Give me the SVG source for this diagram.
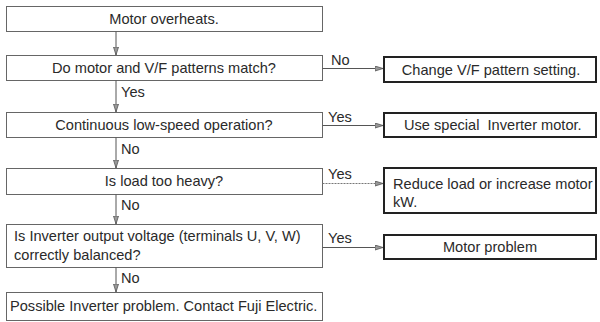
<svg xmlns="http://www.w3.org/2000/svg" width="600" height="322" viewBox="0 0 600 322">
<style>
text{font-family:"Liberation Sans",Arial,sans-serif;font-size:14.6px;fill:#2a2a2a}
.c{text-anchor:middle}
.lb{fill:none;stroke:#666;stroke-width:1}
.rb{fill:none;stroke:#222;stroke-width:2}
.ln{stroke:#555;stroke-width:1;fill:none}
.dt{stroke:#777;stroke-width:1;stroke-dasharray:2 1;fill:none}
</style>
<defs>
<marker id="ah" markerWidth="8" markerHeight="6" refX="8" refY="3" orient="auto" markerUnits="userSpaceOnUse">
<path d="M0,0.5 L8,3 L0,5.5 Z" fill="#999" stroke="#555" stroke-width="0.8"/>
</marker>
</defs>
<rect width="600" height="322" fill="#fff"/>
<g id="n1"><rect class="lb" x="6.5" y="6.5" width="316" height="25"/><text class="c" x="164" y="24">Motor overheats.</text></g>
<g id="n2"><rect class="lb" x="6.5" y="55.5" width="316" height="25"/><text class="c" x="164" y="73">Do motor and V/F patterns match?</text></g>
<g id="n3"><rect class="lb" x="6.5" y="112.5" width="316" height="25"/><text class="c" x="164" y="130">Continuous low-speed operation?</text></g>
<g id="n4"><rect class="lb" x="6.5" y="168.5" width="316" height="26"/><text class="c" x="164" y="186">Is load too heavy?</text></g>
<g id="n5"><rect class="lb" x="6.5" y="224.5" width="316" height="43"/><text x="14" y="241">Is Inverter output voltage (terminals U, V, W)</text><text x="14" y="260">correctly balanced?</text></g>
<g id="n6"><rect class="lb" x="6.5" y="292.5" width="316" height="28"/><text x="10" y="311">Possible Inverter problem. Contact Fuji Electric.</text></g>
<g id="r1"><rect class="rb" x="384" y="57" width="212" height="25"/><text class="c" x="491" y="75">Change V/F pattern setting.</text></g>
<g id="r2"><rect class="rb" x="384" y="113" width="212" height="24"/><text x="404" y="130" xml:space="preserve">Use special  Inverter motor.</text></g>
<g id="r3"><rect class="rb" x="384" y="168" width="212" height="45"/><text x="393" y="189">Reduce load or increase motor</text><text x="393" y="207">kW.</text></g>
<g id="r4"><rect class="rb" x="384" y="235" width="212" height="24"/><text class="c" x="490" y="252">Motor problem</text></g>
<g id="connectors">
<line class="ln" x1="116" y1="31.5" x2="116" y2="55" marker-end="url(#ah)"/>
<line class="ln" x1="116" y1="80.5" x2="116" y2="112" marker-end="url(#ah)"/>
<line class="ln" x1="116" y1="137.5" x2="116" y2="168" marker-end="url(#ah)"/>
<line class="ln" x1="116" y1="194.5" x2="116" y2="224" marker-end="url(#ah)"/>
<line class="ln" x1="116" y1="267.5" x2="116" y2="292" marker-end="url(#ah)"/>
<line class="ln" x1="322.5" y1="68.5" x2="383" y2="68.5" marker-end="url(#ah)"/>
<line class="ln" x1="322.5" y1="125.5" x2="383" y2="125.5" marker-end="url(#ah)"/>
<line class="dt" x1="322.5" y1="183.5" x2="383" y2="183.5" marker-end="url(#ah)"/>
<line class="ln" x1="322.5" y1="247.5" x2="383" y2="247.5" marker-end="url(#ah)"/>
<text x="331" y="65">No</text>
<text x="328" y="122">Yes</text>
<text x="328" y="179">Yes</text>
<text x="328" y="243">Yes</text>
<text x="121" y="97">Yes</text>
<text x="121" y="154">No</text>
<text x="121" y="210">No</text>
<text x="121" y="283">No</text>
</g>
</svg>
